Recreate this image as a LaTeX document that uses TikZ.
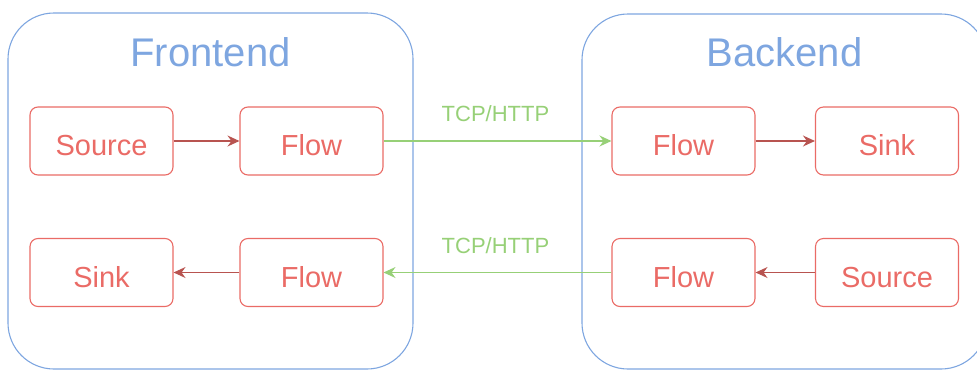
\documentclass[tikz,border=0pt]{standalone}
\usepackage{fontspec}
\setmainfont{Liberation Sans}
\usetikzlibrary{arrows.meta}
\definecolor{groupblue}{HTML}{7EA6E0}
\definecolor{nodered}{HTML}{EA6B66}
\definecolor{linkred}{HTML}{B85450}
\definecolor{netgreen}{HTML}{97D077}
\tikzset{
  group/.style={draw=groupblue, line width=1.1pt, rounded corners=46pt},
  grouptitle/.style={text=groupblue, font=\fontsize{40}{46}\selectfont, inner sep=0pt},
  stage/.style={draw=nodered, line width=1.1pt, rounded corners=8pt,
    minimum width=143pt, minimum height=68pt, text=nodered,
    text height=29pt, text depth=0pt,
    font=\fontsize{29}{34}\selectfont, inner sep=0pt},
  localflow/.style={draw=linkred, line width=1.1pt,
    -{Stealth[length=12pt, width=11pt, inset=4pt]}},
  netflow/.style={draw=netgreen, line width=1.1pt,
    -{Stealth[length=12pt, width=11pt, inset=4pt]}},
  netlabel/.style={text=netgreen, font=\fontsize{22}{26}\selectfont, inner sep=0pt}
}
\begin{document}
\begin{tikzpicture}[x=1pt, y=-1pt]
  \useasboundingbox (0,0) rectangle (977,370);
  \clip (0,0) rectangle (977,370);

  % frontend and backend groups
  \draw[group] (8,13) rectangle (413,369);
  \draw[group] (582,14) rectangle (987,369);
  \node[grouptitle] (fetitle) at (210.5,52) {Frontend};
  \node[grouptitle] (betitle) at (784.5,52) {Backend};

  % frontend stages
  \node[stage] (fesrc)  at (101.5,141) {Source};
  \node[stage] (feout)  at (311.5,141) {Flow};
  \node[stage] (fesink) at (101.5,272.5) {Sink};
  \node[stage] (fein)   at (311.5,272.5) {Flow};

  % backend stages
  \node[stage] (bein)   at (683.5,141) {Flow};
  \node[stage] (besink) at (887,141) {Sink};
  \node[stage] (beout)  at (683.5,272.5) {Flow};
  \node[stage] (besrc)  at (887,272.5) {Source};

  % local links
  \draw[localflow] (fesrc) -- (feout);
  \draw[localflow] (fein) -- (fesink);
  \draw[localflow] (bein) -- (besink);
  \draw[localflow] (besrc) -- (beout);

  % network links
  \draw[netflow] (feout) -- (bein);
  \draw[netflow] (beout) -- (fein);
  \node[netlabel] (uplabel)   at (495.5,114) {TCP/HTTP};
  \node[netlabel] (downlabel) at (495.5,246) {TCP/HTTP};
\end{tikzpicture}
\end{document}
